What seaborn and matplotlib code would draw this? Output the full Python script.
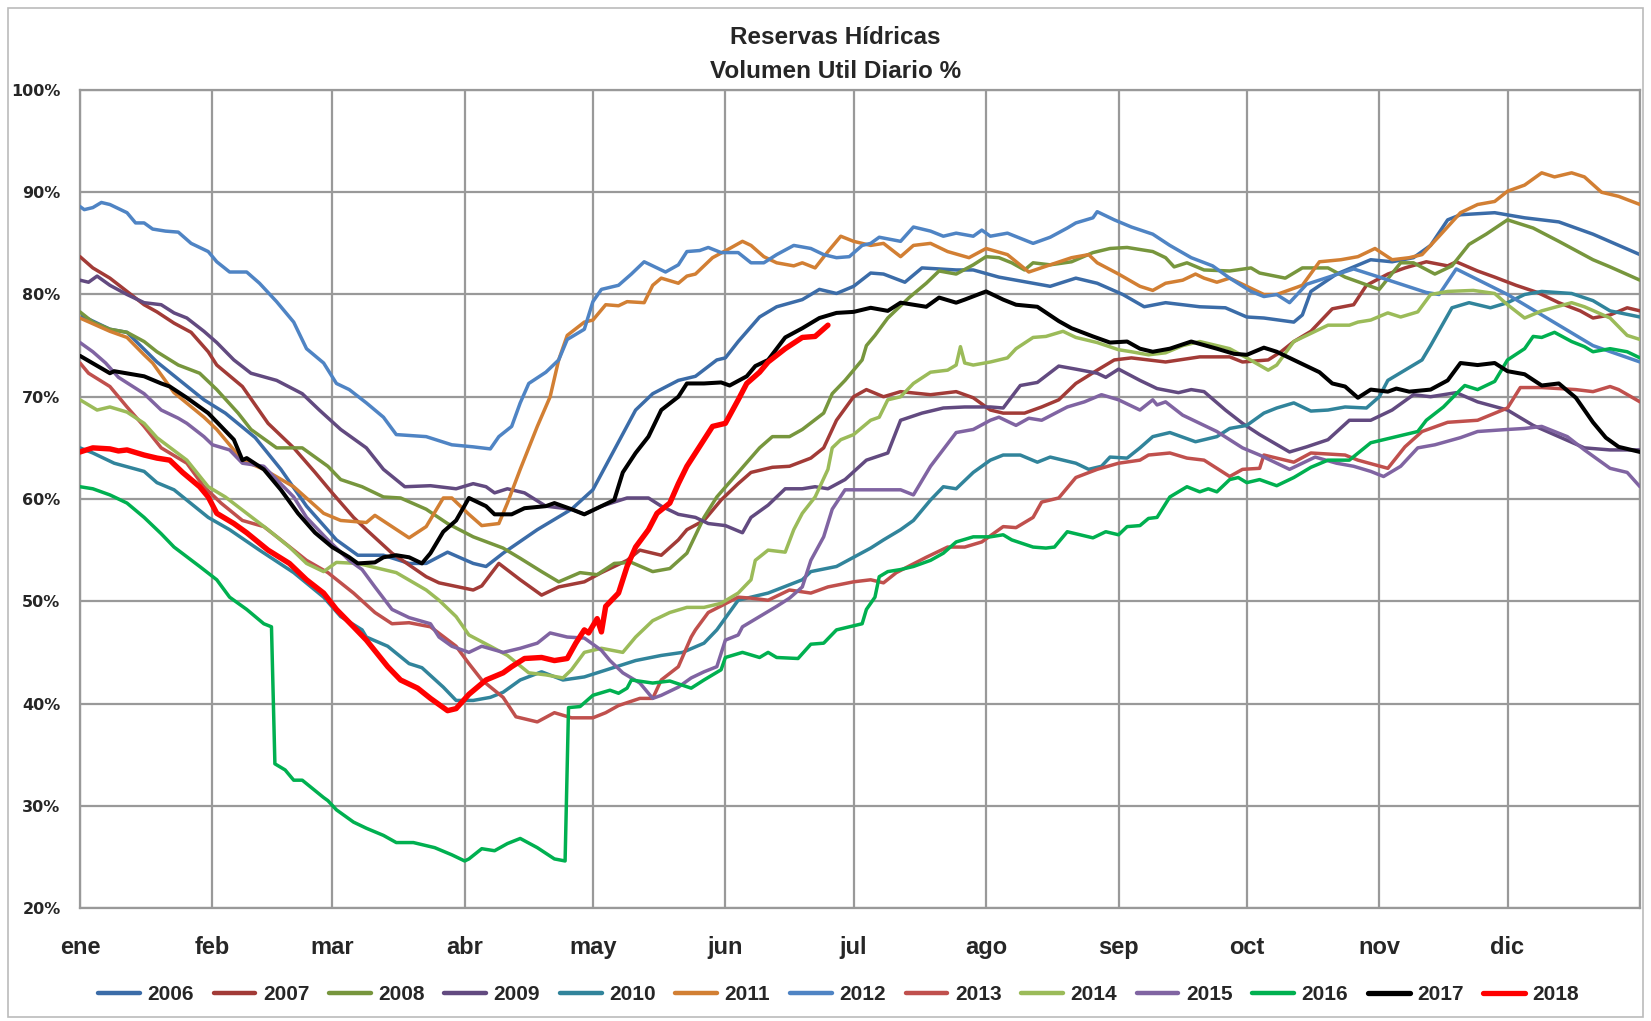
import matplotlib
matplotlib.use("Agg")
import matplotlib.pyplot as plt
import seaborn as sns
import pandas as pd
from matplotlib.lines import Line2D
from matplotlib.patches import Rectangle

sns.set_theme(style="white")
plt.rcParams['font.family'] = ['Liberation Sans', 'DejaVu Sans']

month_starts = [0, 31, 59, 90, 120, 151, 181, 212, 243, 273, 304, 334, 365]
month_labels = ["ene", "feb", "mar", "abr", "may", "jun", "jul", "ago", "sep", "oct", "nov", "dic"]
y_ticks = [20, 30, 40, 50, 60, 70, 80, 90, 100]

d2006 = [0,7,11,18,29,34,41,47,53,60,65,71,77,81,86,92,95,99,107,115,120,125,130,134,140,144,149,151,154,159,163,169,173,177,181,185,188,193,197,205,209,215,223,227,233,238,244,249,254,262,268,273,277,284,286,288,294,302,307,312,316,320,323,331,338,346,354,365]
v2006 = [78.0,76.6,76.3,73.4,69.7,68.4,66.0,62.9,59.3,56.0,54.5,54.5,53.7,53.7,54.8,53.7,53.4,54.7,57.0,59.0,60.9,64.8,68.7,70.3,71.6,72.0,73.6,73.8,75.4,77.8,78.8,79.5,80.5,80.1,80.8,82.1,82.0,81.2,82.6,82.4,82.4,81.7,81.1,80.8,81.6,81.1,80.0,78.8,79.2,78.8,78.7,77.8,77.7,77.3,78.0,80.3,82.0,83.4,83.2,83.6,84.8,87.3,87.8,88.0,87.5,87.1,85.9,83.9]

d2007 = [0,3,7,11,15,18,22,26,30,32,38,44,50,55,59,64,67,73,81,84,92,94,98,103,108,112,118,122,128,131,136,140,142,146,150,154,157,162,166,171,174,177,181,184,188,192,199,205,209,213,216,221,225,229,233,238,242,246,254,262,269,272,278,281,284,288,293,298,301,306,310,315,320,322,327,331,336,341,346,351,354,358,362,365]
v2007 = [83.7,82.6,81.6,80.3,79.0,78.3,77.2,76.3,74.4,73.1,71.0,67.4,65.0,62.6,60.6,58.2,57.0,54.7,52.4,51.8,51.1,51.5,53.7,52.1,50.6,51.4,51.9,52.8,54.0,55.0,54.5,56.0,57.0,57.9,59.9,61.5,62.6,63.1,63.2,64.0,65.0,67.7,70.0,70.7,70.0,70.5,70.2,70.5,69.9,68.7,68.4,68.4,69.0,69.7,71.3,72.6,73.6,73.8,73.4,73.9,73.9,73.4,73.6,74.4,75.4,76.4,78.6,79.0,80.9,82.0,82.6,83.2,82.8,83.2,82.3,81.7,80.9,80.2,79.2,78.4,77.7,78.0,78.7,78.4]

d2008 = [0,3,7,11,15,18,23,28,32,37,40,46,52,58,61,66,71,75,81,86,92,99,103,108,112,117,121,125,129,134,138,142,146,149,154,159,162,166,169,174,176,179,183,184,186,189,194,198,201,205,209,212,215,218,221,223,227,232,237,241,245,251,254,256,259,263,269,274,276,282,286,292,296,300,304,309,312,317,321,325,329,334,340,346,354,358,365]
v2008 = [78.3,77.3,76.6,76.3,75.4,74.4,73.1,72.3,70.7,68.4,66.8,65.0,65.0,63.2,61.9,61.2,60.2,60.1,59.0,57.6,56.3,55.2,54.2,52.9,51.9,52.8,52.6,53.7,53.8,52.9,53.2,54.7,58.2,60.2,62.6,65.0,66.1,66.1,66.8,68.4,70.3,71.6,73.6,75.0,76.0,77.7,79.7,81.1,82.3,82.0,82.9,83.7,83.6,83.1,82.4,83.1,82.9,83.2,84.1,84.5,84.6,84.2,83.6,82.7,83.1,82.4,82.3,82.6,82.1,81.6,82.6,82.6,81.7,81.1,80.5,83.1,83.1,82.0,82.8,84.9,85.9,87.3,86.5,85.2,83.4,82.7,81.4]

d2009 = [0,2,4,7,11,15,19,22,25,29,32,36,40,46,52,56,61,67,71,76,82,88,92,95,97,100,104,109,115,118,122,128,133,136,140,144,147,151,155,157,161,165,169,172,175,179,184,189,192,197,202,207,213,216,220,224,229,233,238,240,243,248,252,257,260,263,268,272,276,283,287,292,297,302,307,312,316,322,327,334,340,346,352,358,365]
v2009 = [81.4,81.2,81.8,80.9,80.0,79.2,79.0,78.2,77.7,76.4,75.3,73.6,72.3,71.6,70.3,68.7,66.8,65.0,62.9,61.2,61.3,61.0,61.5,61.2,60.6,61.0,60.6,59.3,59.0,58.5,59.3,60.1,60.1,59.3,58.5,58.2,57.6,57.4,56.7,58.2,59.4,61.0,61.0,61.2,61.0,61.9,63.8,64.5,67.7,68.4,68.9,69.0,69.0,68.9,71.1,71.4,73.0,72.7,72.3,71.9,72.7,71.6,70.8,70.4,70.7,70.5,68.7,67.4,66.3,64.6,65.1,65.8,67.7,67.7,68.7,70.2,70.0,70.4,69.5,68.7,67.2,66.1,65.0,64.8,64.8]

d2010 = [0,3,8,15,18,22,30,35,42,50,57,61,66,67,72,77,80,85,88,92,96,99,103,108,113,118,124,130,136,141,146,149,154,161,169,171,177,181,185,188,192,195,199,202,205,209,213,216,220,224,227,233,236,239,241,245,248,251,255,261,266,269,273,277,280,284,288,292,296,301,304,306,310,314,316,321,325,330,334,338,342,349,354,358,365]
v2010 = [65.0,64.5,63.5,62.7,61.6,60.9,58.2,57.0,55.0,52.8,50.4,48.5,47.2,46.5,45.6,43.9,43.5,41.6,40.3,40.3,40.6,41.1,42.3,43.1,42.3,42.6,43.4,44.2,44.7,45.0,45.9,47.2,50.1,50.8,52.1,52.9,53.4,54.3,55.2,56.0,57.0,57.9,59.9,61.2,61.0,62.6,63.8,64.3,64.3,63.6,64.1,63.5,62.9,63.2,64.1,64.0,65.0,66.1,66.5,65.6,66.1,66.9,67.2,68.4,68.9,69.4,68.6,68.7,69.0,68.9,70.0,71.6,72.6,73.6,75.0,78.7,79.2,78.7,79.2,80.0,80.3,80.1,79.4,78.4,77.8]

d2011 = [0,7,11,15,17,22,29,32,38,43,50,57,61,67,69,77,81,85,87,91,94,98,100,103,107,110,112,114,118,120,123,126,128,132,134,136,140,142,144,148,152,155,157,160,163,167,169,172,175,178,181,185,188,192,195,199,203,208,212,217,222,227,232,236,238,243,248,251,254,258,261,263,266,269,273,277,280,286,290,295,299,303,307,311,314,318,323,327,331,334,338,342,345,349,352,356,360,365]
v2011 = [77.7,76.4,75.8,74.1,73.3,70.4,68.0,66.8,63.8,62.9,61.2,58.6,57.9,57.7,58.4,56.2,57.3,60.1,60.1,58.5,57.4,57.6,59.6,62.9,67.1,70.0,73.6,76.0,77.3,77.5,79.0,78.9,79.3,79.2,80.9,81.6,81.1,81.8,82.0,83.6,84.5,85.2,84.8,83.7,83.1,82.8,83.1,82.6,84.2,85.7,85.2,84.8,85.0,83.7,84.8,85.0,84.2,83.6,84.5,83.9,82.2,82.9,83.6,83.9,83.1,82.0,80.8,80.4,81.1,81.4,82.0,81.6,81.2,81.6,80.8,80.0,80.0,80.9,83.2,83.4,83.7,84.5,83.4,83.6,83.9,85.7,88.0,88.8,89.1,90.1,90.7,91.9,91.5,91.9,91.5,90.0,89.6,88.8]

d2012 = [0,1,3,5,7,11,13,15,17,20,23,26,30,32,35,39,42,46,50,53,57,60,63,67,71,74,81,87,92,96,98,101,103,105,109,112,114,118,120,122,126,129,132,135,137,140,142,145,147,150,154,157,160,163,167,171,174,177,180,183,185,187,192,195,199,202,205,209,211,213,217,223,227,231,233,237,238,242,246,251,255,260,265,269,274,277,280,283,287,298,304,315,318,322,334,346,354,365]
v2012 = [88.6,88.3,88.5,89.0,88.8,88.0,87.0,87.0,86.4,86.2,86.1,85.0,84.2,83.2,82.2,82.2,81.1,79.3,77.3,74.7,73.3,71.3,70.7,69.4,68.0,66.3,66.1,65.3,65.1,64.9,66.1,67.1,69.4,71.3,72.4,73.6,75.6,76.6,79.3,80.5,80.9,82.0,83.2,82.6,82.2,82.9,84.2,84.3,84.6,84.1,84.1,83.1,83.1,83.9,84.8,84.5,83.9,83.6,83.7,84.8,85.0,85.6,85.2,86.6,86.2,85.7,86.0,85.7,86.3,85.7,86.0,85.0,85.6,86.5,87.0,87.5,88.1,87.3,86.6,85.9,84.8,83.6,82.8,81.6,80.3,79.8,80.0,79.2,81.0,82.5,81.7,80.2,80.0,82.5,80.0,77.0,75.0,73.4]

d2013 = [0,2,7,11,15,19,25,29,33,38,43,47,53,58,64,69,73,77,82,88,91,94,99,102,107,111,115,120,123,126,131,134,136,140,143,144,147,154,157,161,166,171,175,181,185,188,191,198,203,207,211,216,219,223,225,229,233,238,243,248,250,255,259,263,269,272,276,277,284,288,296,299,306,310,314,320,327,334,337,342,350,354,358,360,365]
v2013 = [73.3,72.3,71.0,69.0,67.1,65.0,63.5,61.2,59.6,57.9,57.3,56.0,54.0,52.8,50.8,48.9,47.8,47.9,47.5,45.6,43.9,42.3,40.6,38.7,38.2,39.1,38.6,38.6,39.1,39.8,40.5,40.5,42.3,43.6,46.5,47.2,48.9,50.4,50.3,50.1,51.1,50.8,51.4,51.9,52.1,51.8,52.8,54.3,55.3,55.3,55.8,57.3,57.2,58.2,59.7,60.1,62.1,62.9,63.5,63.8,64.3,64.5,64.0,63.8,62.2,62.9,63.0,64.3,63.6,64.5,64.3,63.8,63.0,65.1,66.6,67.5,67.7,68.9,70.9,70.9,70.7,70.5,71.0,70.7,69.5]

d2014 = [0,4,7,11,15,18,25,30,34,39,44,49,53,57,60,65,71,74,81,84,88,91,96,100,105,109,113,115,118,122,127,130,134,138,142,146,150,154,157,158,161,165,167,169,172,175,176,178,181,185,187,189,192,195,199,203,205,206,207,209,213,217,219,223,226,230,233,238,243,246,250,254,258,262,266,269,273,278,280,284,288,292,297,299,302,306,309,313,316,320,326,331,334,338,342,349,352,358,362,365]
v2014 = [69.7,68.7,69.0,68.5,67.4,66.0,63.8,61.2,60.2,58.6,57.0,55.3,53.7,52.9,53.8,53.7,53.1,52.8,51.1,50.1,48.5,46.7,45.6,44.7,43.0,42.8,42.5,43.3,45.0,45.4,45.0,46.5,48.1,48.9,49.4,49.4,49.8,50.8,52.1,54.0,55.0,54.8,57.0,58.6,60.2,62.9,65.0,65.8,66.3,67.7,68.0,69.7,70.0,71.3,72.4,72.6,73.1,74.9,73.3,73.1,73.4,73.8,74.7,75.8,75.9,76.4,75.8,75.3,74.6,74.4,74.1,74.3,75.0,75.4,75.0,74.7,73.8,72.6,73.1,75.4,76.2,77.0,77.0,77.3,77.5,78.2,77.8,78.3,80.0,80.3,80.4,80.1,79.0,77.7,78.4,79.2,78.8,77.7,76.0,75.6]

d2015 = [0,3,6,9,15,19,23,25,29,31,35,38,43,46,50,53,58,63,66,69,73,77,82,84,87,91,94,99,103,107,110,114,118,122,124,127,131,134,136,140,143,146,149,151,154,155,159,163,166,169,171,174,176,179,185,192,195,199,205,209,213,215,219,222,225,231,235,239,243,248,251,252,254,258,262,266,269,272,276,280,283,286,289,294,298,302,305,309,313,317,323,327,334,338,342,348,352,358,362,365]
v2015 = [75.3,74.4,73.3,71.9,70.3,68.7,67.9,67.4,66.1,65.3,64.8,63.5,63.2,61.9,60.2,58.2,56.0,54.0,53.1,51.4,49.2,48.4,47.8,46.5,45.6,45.0,45.6,45.0,45.4,45.9,46.9,46.5,46.4,45.2,44.2,43.0,42.0,40.5,40.8,41.6,42.5,43.1,43.6,46.2,46.7,47.5,48.5,49.5,50.3,51.4,54.0,56.3,59.0,60.9,60.9,60.9,60.4,63.2,66.5,66.8,67.7,68.0,67.2,67.9,67.7,69.0,69.5,70.2,69.7,68.7,69.7,69.2,69.5,68.2,67.4,66.6,65.8,65.0,64.3,63.5,62.9,63.5,64.1,63.5,63.2,62.7,62.2,63.2,65.0,65.3,66.0,66.6,66.8,66.9,67.1,66.1,64.8,63.0,62.6,61.2]

d2016 = [0,3,7,11,15,19,22,28,32,35,39,43,44.8,45.6,48,50,52,57,58,60,64,67,71,74,78,83,87,90,91,94,97,100,103,107,111,113.5,114.3,117,120,124,126,128,129,134,138,143,146,150,151,155,159,161,163,168,171,174,177,183,184,186,187,189,192,195,199,202,205,209,213,216,218,223,226,228,231,234,237,240,243,245,248,250,252,255,259,262,264,266,269,271,273,276,280,284,288,292,297,302,307,313,315,319,323,324,327,331,334,338,340,342,345,349,352,354,358,362,365]
v2016 = [61.2,61.0,60.4,59.6,58.2,56.6,55.3,53.4,52.1,50.4,49.2,47.8,47.5,34.1,33.5,32.5,32.5,30.8,30.5,29.6,28.4,27.8,27.1,26.4,26.4,25.9,25.2,24.6,24.8,25.8,25.6,26.3,26.8,25.9,24.8,24.6,39.6,39.7,40.8,41.3,41.0,41.5,42.3,42.0,42.2,41.5,42.3,43.3,44.5,45.0,44.5,45.0,44.5,44.4,45.8,45.9,47.2,47.8,49.2,50.4,52.4,52.9,53.1,53.4,54.0,54.7,55.8,56.3,56.3,56.5,56.0,55.3,55.2,55.3,56.8,56.5,56.2,56.8,56.5,57.3,57.4,58.1,58.2,60.2,61.2,60.7,61.0,60.7,61.9,62.1,61.6,61.9,61.3,62.1,63.1,63.8,63.8,65.5,66.0,66.6,67.7,69.0,70.7,71.1,70.7,71.5,73.6,74.7,75.9,75.8,76.3,75.4,74.9,74.4,74.7,74.4,73.8]

d2017 = [0,7,8,15,19,21,25,30,33,36,38,39,43,47,51,55,59,63,65,69,71,74,77,80,82,85,88,91,95,97,101,104,109,111,115,118,122,125,127,130,133,136,140,142,146,150,152,156,158,161,165,169,173,177,181,185,189,192,198,201,205,207,212,216,219,224,229,232,237,241,245,248,251,255,260,266,270,273,277,280,284,290,293,296,299,302,306,308,311,316,320,323,327,331,334,338,342,346,350,354,357,360,365]
v2017 = [74.0,72.3,72.5,72.0,71.3,71.0,69.9,68.4,67.1,65.8,63.8,64.0,62.9,60.9,58.6,56.7,55.3,54.3,53.7,53.8,54.3,54.5,54.3,53.7,54.7,56.8,57.9,60.1,59.3,58.5,58.5,59.1,59.3,59.6,59.0,58.5,59.3,59.9,62.6,64.5,66.1,68.7,70.0,71.3,71.3,71.4,71.1,72.0,73.0,73.6,75.8,76.7,77.7,78.2,78.3,78.7,78.4,79.2,78.8,79.7,79.2,79.5,80.3,79.5,79.0,78.8,77.4,76.7,75.9,75.3,75.4,74.7,74.4,74.7,75.4,74.7,74.2,74.1,74.8,74.4,73.6,72.4,71.3,71.0,69.9,70.7,70.5,70.8,70.5,70.7,71.6,73.3,73.1,73.3,72.5,72.2,71.1,71.3,69.9,67.5,66.0,65.1,64.6]

d2018 = [0,3,7,9,11,15,18,21,24,28,30,32,36,39,44,49,53,57,60,64,67,72,75,79,82,86,88,91,95,99,101,104,108,111,114,116,118,119,121,122,123,126,128,130,133,135,138,140,142,146,148,151,154,156,159,161,165,169,172,175]
v2018 = [64.6,65.0,64.9,64.7,64.8,64.3,64.0,63.8,62.6,61.2,60.2,58.6,57.6,56.7,55.0,53.7,52.1,50.8,49.2,47.5,46.2,43.6,42.3,41.5,40.5,39.3,39.5,40.9,42.3,43.0,43.6,44.4,44.5,44.2,44.4,45.9,47.2,46.9,48.3,47.0,49.5,50.8,53.4,55.3,57.0,58.6,59.6,61.5,63.2,65.8,67.1,67.4,69.7,71.3,72.4,73.4,74.7,75.8,75.9,77.0]

years = ["2006", "2007", "2008", "2009", "2010", "2011", "2012", "2013", "2014", "2015", "2016", "2017", "2018"]
series = {
    "2006": (d2006, v2006), "2007": (d2007, v2007), "2008": (d2008, v2008),
    "2009": (d2009, v2009), "2010": (d2010, v2010), "2011": (d2011, v2011),
    "2012": (d2012, v2012), "2013": (d2013, v2013), "2014": (d2014, v2014),
    "2015": (d2015, v2015), "2016": (d2016, v2016), "2017": (d2017, v2017),
    "2018": (d2018, v2018),
}
colors = {
    "2006": "#3B6CA8", "2007": "#A23B37", "2008": "#77963D", "2009": "#624A80",
    "2010": "#31849B", "2011": "#D27F33", "2012": "#4F84C4", "2013": "#C0504D",
    "2014": "#9BBB59", "2015": "#8064A2", "2016": "#00B050", "2017": "#000000",
    "2018": "#FF0000",
}
widths = {y: 2.5 for y in years}
widths["2017"] = 2.9
widths["2018"] = 3.9

W, H = 1651, 1021
fig = plt.figure(figsize=(W / 100, H / 100), dpi=100)
ax = fig.add_axes([80 / W, 1 - 908 / H, (1640 - 80) / W, (908 - 90) / H])

grid_c = "#999999"
for xm in month_starts:
    ax.axvline(xm, color=grid_c, lw=1.6, zorder=0)
for yv in y_ticks:
    ax.axhline(yv, color=grid_c, lw=1.6, zorder=0)

for i, y in enumerate(years):
    d, v = series[y]
    df = pd.DataFrame({"day": d, "val": v})
    sns.lineplot(data=df, x="day", y="val", ax=ax, color=colors[y],
                 lw=widths[y], estimator=None, sort=False, zorder=2 + i)

ax.set_xlim(0, 365)
ax.set_ylim(20, 100)
ax.set_xlabel("")
ax.set_ylabel("")
ax.set_xticks(month_starts)
ax.set_xticklabels(month_labels + [""], fontsize=17, fontweight="bold")
ax.set_yticks(y_ticks)
ax.set_yticklabels([f"{t}%" for t in y_ticks], fontsize=11.5, fontweight="bold",
                   family="DejaVu Sans")
ax.tick_params(axis="x", length=7, width=1.6, color=grid_c, pad=13, direction="out")
ax.tick_params(axis="y", length=5, width=1.6, color=grid_c, pad=9, direction="out")
for s in ax.spines.values():
    s.set_color(grid_c)
    s.set_linewidth(1.6)

fig.text(0.506, 1 - 38 / H, "Reservas Hídricas", ha="center", va="center",
         fontsize=17.5, fontweight="bold")
fig.text(0.506, 1 - 72 / H, "Volumen Util Diario %", ha="center", va="center",
         fontsize=17.5, fontweight="bold")

handles = [Line2D([0], [0], color=colors[y], lw=(3.8 if y in ("2017", "2018") else 3.2)) for y in years]
fig.legend(handles, years, loc="center", bbox_to_anchor=(0.508, 1 - 995 / H), ncol=13,
           frameon=False, prop={"weight": "bold", "size": 15}, handlelength=2.0,
           handletextpad=0.36, columnspacing=0.95)

fig.patches.append(Rectangle((8 / W, 4 / H), 1 - 16 / W, 1 - 12 / H, transform=fig.transFigure,
                             fill=False, edgecolor="#BBBBBB", lw=1.2))

fig.savefig("out.png", dpi=100)
